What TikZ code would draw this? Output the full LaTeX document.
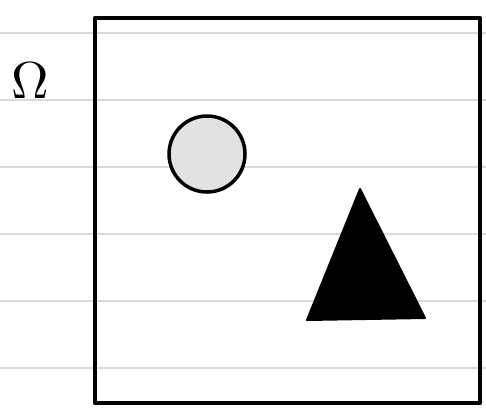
\documentclass[tikz,border=0pt]{standalone}
\usetikzlibrary{positioning, backgrounds}
\definecolor{paperline}{HTML}{D9D9D9}
\definecolor{setfill}  {HTML}{E2E2E2}

\begin{document}
\begin{tikzpicture}[
    x=1pt, y=-1pt,
    ruled/.style={draw=paperline, line width=1.3pt},
    frame/.style={draw=black, line width=4.5pt, line join=round},
    disc/.style={
        circle, draw=black, fill=setfill,
        line width=3.5pt, minimum size=76pt, inner sep=0pt
    },
    blob/.style={draw=black, fill=black, line width=2pt, line join=round},
    setlabel/.style={inner sep=0pt}
]

% ── BACKGROUND ─────────────────────────────────────────────────
\useasboundingbox (0,0) rectangle (486,416);
\begin{scope}[on background layer]
    \fill[white] (0,0) rectangle (486,416);
    \foreach \yy in {33,100,167,234,301,368}
        \draw[ruled] (0,\yy) -- (486,\yy);
\end{scope}

% ── SET Omega ──────────────────────────────────────────────────
\draw[frame] (95,18) rectangle (480,403);

\node[setlabel] (omega) at (30,81) {\scalebox{5.2}{$\Omega$}};

% ── ELEMENTS ───────────────────────────────────────────────────
\node[disc] (circ) at (207,154) {};

\coordinate (apex)  at (360,189);
\coordinate (left)  at (307,320);
\coordinate (right) at (425,318);
\filldraw[blob] (apex) -- (left) -- (right) -- cycle;

\end{tikzpicture}
\end{document}
